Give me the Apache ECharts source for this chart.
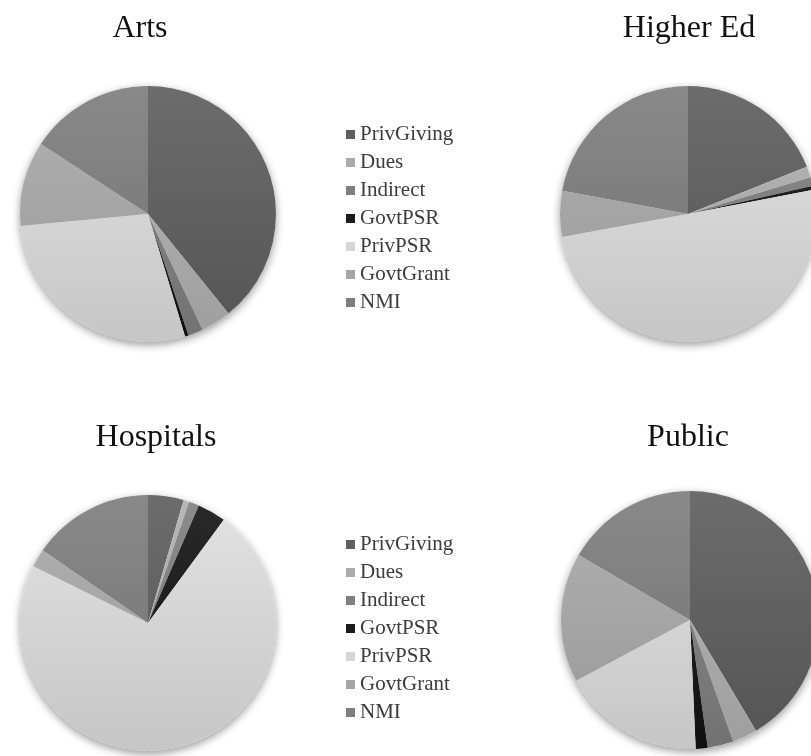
<!DOCTYPE html>
<html>
<head>
<meta charset="utf-8">
<script src="https://cdn.jsdelivr.net/npm/echarts@6/dist/echarts.min.js"></script>
<style>
html,body{margin:0;padding:0;background:#fff;}
#chart{width:811px;height:756px;}
</style>
</head>
<body>
<div id="chart"></div>
<script>
// ---- data ----
const categories = ['PrivGiving', 'Dues', 'Indirect', 'GovtPSR', 'PrivPSR', 'GovtGrant', 'NMI'];
const titles = ['Arts', 'Higher Ed', 'Hospitals', 'Public'];
const artsValues = [39.2, 3.8, 1.9, 0.45, 28.2, 10.7, 15.8];
const higherEdValues = [19.0, 1.4, 1.1, 0.5, 50.2, 5.8, 22.1];
const hospitalsValues = [4.5, 0.7, 1.3, 3.6, 72.3, 2.3, 15.4];
const publicValues = [41.5, 3.1, 3.25, 1.5, 17.9, 16.25, 16.6];
const seriesValues = [artsValues, higherEdValues, hospitalsValues, publicValues];

// ---- styling ----
const topColors = ['#6c6c6c', '#b8b8b8', '#8c8c8c', '#2a2a2a', '#e3e3e3', '#b2b2b2', '#898989'];
const bottomColors = ['#545454', '#9e9e9e', '#727272', '#101010', '#c6c6c6', '#989898', '#717171'];
const legendColors = ['#606060', '#ababab', '#808080', '#1c1c1c', '#d6d6d6', '#a6a6a6', '#7e7e7e'];
const layout = [
  { cx: 148, cy: 214, r: 128, tx: 135, ty: 8 },
  { cx: 688, cy: 214, r: 128, tx: 684, ty: 8 },
  { cx: 148, cy: 623, r: 128, tx: 151, ty: 417 },
  { cx: 690, cy: 620, r: 129, tx: 683, ty: 417 }
];
const serif = 'Liberation Serif, Times New Roman, serif';

const chart = echarts.init(document.getElementById('chart'));

const series = [];
layout.forEach((L, i) => {
  // soft shadow behind each pie
  series.push({
    type: 'pie',
    silent: true,
    center: [L.cx, L.cy],
    radius: [0, L.r],
    label: { show: false },
    labelLine: { show: false },
    itemStyle: { color: '#ffffff', shadowBlur: 9, shadowColor: 'rgba(0,0,0,0.4)', shadowOffsetY: 3 },
    data: [{ name: '_bg' + i, value: 1 }],
    z: 1
  });
  series.push({
    type: 'pie',
    name: titles[i],
    center: [L.cx, L.cy],
    radius: [0, L.r],
    startAngle: 90,
    clockwise: true,
    label: { show: false },
    labelLine: { show: false },
    emphasis: { disabled: true },
    z: 2,
    data: categories.map((c, k) => ({
      name: c,
      value: seriesValues[i][k],
      itemStyle: {
        borderWidth: 0,
        color: {
          type: 'linear', x: 0, y: L.cy - L.r, x2: 0, y2: L.cy + L.r, global: true,
          colorStops: [{ offset: 0, color: topColors[k] }, { offset: 1, color: bottomColors[k] }]
        }
      }
    }))
  });
});

const legendData = categories.map((c, k) => ({ name: c, itemStyle: { color: legendColors[k] } }));
const legendBase = {
  orient: 'vertical',
  left: 346,
  padding: 0,
  itemWidth: 9,
  itemHeight: 9,
  itemGap: 7,
  icon: 'rect',
  selectedMode: false,
  textStyle: { fontFamily: serif, fontSize: 21, color: '#3c3c3c', padding: [0, 0, 0, 0] },
  data: legendData
};

chart.setOption({
  animation: false,
  backgroundColor: '#ffffff',
  title: layout.map((L, i) => ({
    text: titles[i],
    left: L.tx,
    top: L.ty,
    textAlign: 'center',
    textStyle: { fontFamily: serif, fontSize: 32, fontWeight: 'normal', color: '#111' }
  })),
  legend: [
    Object.assign({}, legendBase, { top: 124 }),
    Object.assign({}, legendBase, { top: 534 })
  ],
  series: series
});
</script>
</body>
</html>
